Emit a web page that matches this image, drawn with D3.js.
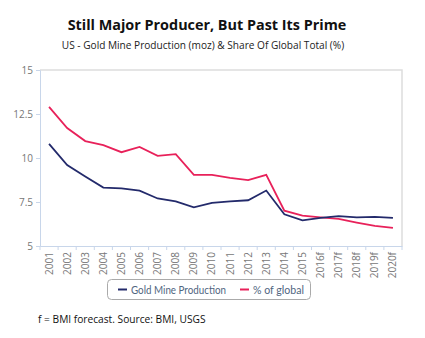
<!DOCTYPE html>
<html>
<head>
<meta charset="utf-8">
<script src="https://cdn.jsdelivr.net/npm/d3@7"></script>
<style>
  body { margin: 0; background: #fff; }
  text { font-family: "Open Sans", sans-serif; }
</style>
</head>
<body>
<div class="chart"></div>
<script>
// categories and series
const years = ["2001","2002","2003","2004","2005","2006","2007","2008","2009","2010",
  "2011","2012","2013","2014","2015","2016f","2017f","2018f","2019f","2020f"];
const goldProduction = [10.8, 9.6, 8.95, 8.32, 8.27, 8.15, 7.7, 7.53, 7.2, 7.45,
  7.54, 7.6, 8.15, 6.8, 6.46, 6.6, 6.7, 6.63, 6.65, 6.6];
const pctGlobal = [12.9, 11.7, 10.96, 10.73, 10.33, 10.63, 10.12, 10.22, 9.04, 9.04,
  8.87, 8.74, 9.04, 7.01, 6.73, 6.63, 6.54, 6.33, 6.14, 6.03];
const yTicks = [5, 7.5, 10, 12.5, 15];

const width = 425, height = 338;
const margin = {left: 40, right: 23, top: 70, bottom: 92};

const svg = d3.select(".chart").append("svg")
    .attr("width", width)
    .attr("height", height);

// title + subtitle
svg.append("text")
    .attr("x", 207).attr("y", 30)
    .attr("text-anchor", "middle")
    .style("font-size", "14.4px").style("font-weight", "bold")
    .attr("fill", "#111")
    .text("Still Major Producer, But Past Its Prime");
svg.append("text")
    .attr("x", 203).attr("y", 49)
    .attr("text-anchor", "middle")
    .style("font-size", "10.1px")
    .attr("fill", "#222")
    .text("US - Gold Mine Production (moz) & Share Of Global Total (%)");

const x = d3.scaleBand()
    .domain(years)
    .range([margin.left, width - margin.right]);
const y = d3.scaleLinear()
    .domain([5, 15])
    .range([height - margin.bottom, margin.top]);

// frame: light grey top/right
svg.append("path")
    .attr("d", `M${margin.left},${margin.top}H${width - margin.right}V${height - margin.bottom}`)
    .attr("fill", "none")
    .attr("stroke", "#ddd")
    .attr("stroke-width", 1.5);

// y axis
const yAxis = svg.append("g")
    .attr("transform", `translate(${margin.left},0)`)
    .call(d3.axisLeft(y).tickValues(yTicks).tickSize(4).tickPadding(3).tickFormat(d3.format("~g")));
yAxis.select(".domain").attr("stroke", "#c8d6ea");
yAxis.selectAll(".tick line").attr("stroke", "#c8d6ea");
yAxis.selectAll("text").attr("fill", "#777").style("font-size", "10px");

// x axis, ticks between categories
const xAxis = svg.append("g")
    .attr("transform", `translate(0,${height - margin.bottom})`)
    .call(d3.axisBottom(x).tickSize(0).tickPadding(0));
xAxis.select(".domain").attr("stroke", "#c8d6ea");
xAxis.selectAll("text")
    .attr("fill", "#777")
    .style("font-size", "10px")
    .attr("text-anchor", "end")
    .attr("transform", "rotate(-90)")
    .attr("x", -6)
    .attr("dy", "0.35em")
    .attr("y", 0);
svg.append("g")
    .selectAll("line")
    .data(years.map(d => x(d)).concat([x(years[years.length - 1]) + x.bandwidth()]))
    .join("line")
    .attr("x1", d => d).attr("x2", d => d)
    .attr("y1", height - margin.bottom)
    .attr("y2", height - margin.bottom + 4)
    .attr("stroke", "#c8d6ea");

// lines
const line = d3.line()
    .x((d, i) => x(years[i]) + x.bandwidth() / 2)
    .y(d => y(d));

svg.append("path")
    .datum(pctGlobal)
    .attr("fill", "none")
    .attr("stroke", "#e8215a")
    .attr("stroke-width", 1.8)
    .attr("d", line);
svg.append("path")
    .datum(goldProduction)
    .attr("fill", "none")
    .attr("stroke", "#232a6b")
    .attr("stroke-width", 1.8)
    .attr("d", line);

// legend
const legend = svg.append("g");
legend.append("rect")
    .attr("x", 107.5).attr("y", 279.5)
    .attr("width", 203).attr("height", 20)
    .attr("rx", 4)
    .attr("fill", "#fff")
    .attr("stroke", "#aaa");
const items = [
  {name: "Gold Mine Production", color: "#232a6b", x: 118, w: 95},
  {name: "% of global", color: "#e8215a", x: 240, w: 51}
];
items.forEach(it => {
  legend.append("line")
      .attr("x1", it.x).attr("x2", it.x + 9)
      .attr("y1", 289.5).attr("y2", 289.5)
      .attr("stroke", it.color).attr("stroke-width", 2);
  legend.append("text")
      .attr("x", it.x + 13).attr("y", 293.5)
      .style("font-family", "Lato, sans-serif")
      .style("font-size", "12px")
      .attr("textLength", it.w)
      .attr("lengthAdjust", "spacingAndGlyphs")
      .attr("fill", "#4f6580")
      .text(it.name);
});

// footnote
svg.append("text")
    .attr("x", 38).attr("y", 323)
    .style("font-size", "10.2px")
    .attr("fill", "#111")
    .text("f = BMI forecast. Source: BMI, USGS");
</script>
</body>
</html>
